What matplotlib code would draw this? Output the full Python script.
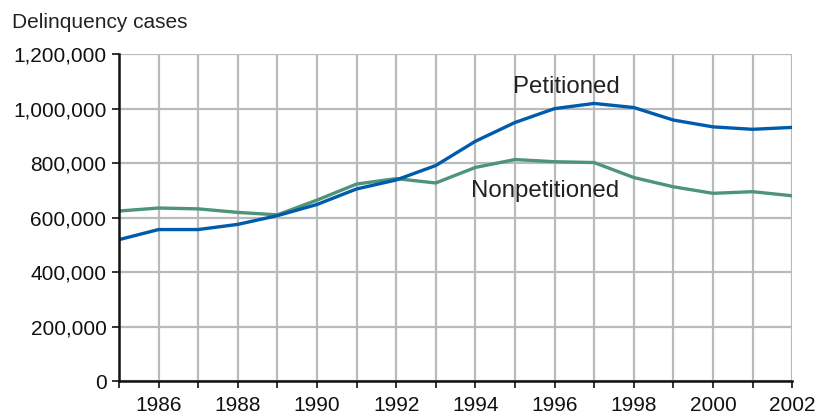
import matplotlib
matplotlib.use('Agg')
import matplotlib.pyplot as plt
from matplotlib.ticker import FuncFormatter

years = list(range(1985, 2003))
petitioned = [519000, 556000, 556000, 575000, 607000, 648000, 705000, 738000, 791000,
              880000, 949000, 1000000, 1019000, 1004000, 958000, 933000, 924000, 931000]
nonpetitioned = [624000, 635000, 632000, 619000, 610000, 664000, 723000, 743000, 727000,
                 784000, 813000, 805000, 802000, 747000, 713000, 689000, 695000, 680000]

plt.rcParams['font.family'] = ['Liberation Sans', 'DejaVu Sans']

BLUE = '#005BAC'
GREEN = '#4E9479'
GRID = '#B8BABC'

fig = plt.figure(figsize=(8.26, 4.18), dpi=100)
ax = fig.add_axes([0.144, 0.0885, 0.815, 0.782])

ax.plot(years, nonpetitioned, color=GREEN, lw=2.4, solid_joinstyle='round', zorder=3)
ax.plot(years, petitioned, color=BLUE, lw=2.4, solid_joinstyle='round', zorder=4)

ax.set_xlim(1985, 2002)
ax.set_ylim(0, 1200000)

ax.set_xticks(range(1986, 2003, 2))
ax.set_xticks(range(1985, 2003), minor=True)
ax.set_yticks(range(0, 1200001, 200000))
ax.yaxis.set_major_formatter(FuncFormatter(lambda v, p: f'{int(v):,}'))

ax.grid(True, which='both', axis='x', color=GRID, lw=1.6, zorder=1)
ax.grid(True, which='major', axis='y', color=GRID, lw=1.6, zorder=1)

for s in ['top', 'right']:
    ax.spines[s].set_visible(False)
for s in ['left', 'bottom']:
    ax.spines[s].set_linewidth(1.8)
    ax.spines[s].set_color('#111111')
    ax.spines[s].set_zorder(5)

ax.tick_params(axis='x', which='both', direction='out', length=5, width=1.2,
               labelsize=15, pad=6, colors='#111111')
ax.tick_params(axis='y', direction='out', length=5, width=1.2, labelsize=15,
               pad=4, colors='#111111')

ax.text(1996.29, 1079000, 'Petitioned', fontsize=17.3, ha='center', va='center',
        color='#222222')
ax.text(1995.76, 697000, 'Nonpetitioned', fontsize=17.3, ha='center', va='center',
        color='#222222')

fig.text(12 / 826, 1 - 22 / 418, 'Delinquency cases', fontsize=15, ha='left',
         va='center', color='#222222')

fig.savefig('out.png', dpi=100)
